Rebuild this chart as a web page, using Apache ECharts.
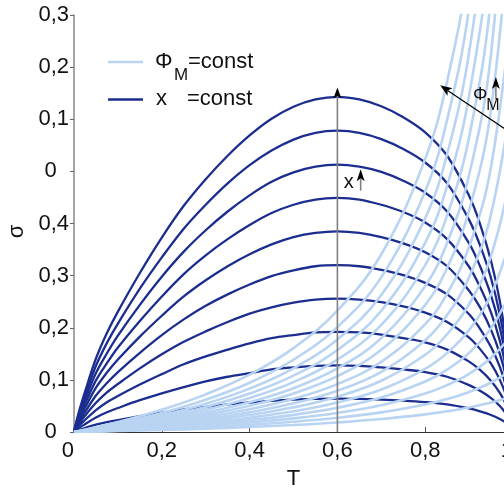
<!DOCTYPE html>
<html>
<head>
<meta charset="utf-8">
<script src="https://cdn.jsdelivr.net/npm/echarts@6/dist/echarts.min.js"></script>
<style>
  html, body { margin: 0; padding: 0; background: #fff; }
  #chart { width: 504px; height: 490px; }
</style>
</head>
<body>
<div id="chart"></div>
<script>
// Tick labels as printed on the axes
const xTickLabels = ['0', '0,2', '0,4', '0,6', '0,8', '1'];
const yTickLabels = ['0', '0,1', '0,2', '0,3', '0,4', '0', '0,1', '0,2', '0,3'];

// x = const curves: sampled temperatures and sigma values
const tDark = [0, 0.01, 0.025, 0.05, 0.075, 0.1, 0.15, 0.2, 0.25, 0.3, 0.35, 0.4, 0.45, 0.5, 0.55,
               0.6, 0.65, 0.7, 0.75, 0.8, 0.85, 0.9, 0.925, 0.95, 0.97, 0.985, 1.0];
const xLine1  = [0, 0.035, 0.077, 0.141, 0.190, 0.231, 0.305, 0.373, 0.434, 0.485, 0.530, 0.569, 0.601, 0.624, 0.638, 0.643, 0.638, 0.625, 0.604, 0.575, 0.530, 0.453, 0.399, 0.328, 0.251, 0.167, 0];
const xLine2  = [0, 0.032, 0.069, 0.127, 0.171, 0.208, 0.275, 0.335, 0.390, 0.436, 0.477, 0.512, 0.540, 0.561, 0.574, 0.578, 0.574, 0.562, 0.543, 0.517, 0.477, 0.407, 0.358, 0.295, 0.225, 0.150, 0];
const xLine3  = [0, 0.028, 0.062, 0.113, 0.151, 0.185, 0.244, 0.298, 0.346, 0.387, 0.423, 0.454, 0.480, 0.498, 0.509, 0.513, 0.509, 0.499, 0.482, 0.459, 0.423, 0.362, 0.318, 0.262, 0.200, 0.133, 0];
const xLine4  = [0, 0.025, 0.054, 0.099, 0.132, 0.162, 0.213, 0.260, 0.303, 0.339, 0.370, 0.397, 0.420, 0.436, 0.446, 0.449, 0.446, 0.436, 0.422, 0.402, 0.370, 0.317, 0.278, 0.229, 0.175, 0.117, 0];
const xLine5  = [0, 0.021, 0.046, 0.085, 0.114, 0.139, 0.183, 0.223, 0.260, 0.291, 0.318, 0.341, 0.360, 0.374, 0.382, 0.385, 0.382, 0.374, 0.362, 0.345, 0.318, 0.271, 0.239, 0.196, 0.150, 0.100, 0];
const xLine6  = [0, 0.018, 0.038, 0.070, 0.094, 0.115, 0.152, 0.186, 0.216, 0.242, 0.264, 0.283, 0.299, 0.310, 0.318, 0.320, 0.318, 0.311, 0.301, 0.286, 0.264, 0.226, 0.198, 0.163, 0.125, 0.083, 0];
const xLine7  = [0, 0.014, 0.031, 0.056, 0.076, 0.092, 0.122, 0.149, 0.173, 0.193, 0.211, 0.227, 0.239, 0.248, 0.254, 0.256, 0.254, 0.249, 0.241, 0.229, 0.211, 0.181, 0.159, 0.131, 0.100, 0.067, 0];
const xLine8  = [0, 0.011, 0.023, 0.042, 0.057, 0.069, 0.091, 0.111, 0.130, 0.145, 0.158, 0.170, 0.180, 0.186, 0.191, 0.192, 0.191, 0.187, 0.180, 0.172, 0.158, 0.135, 0.119, 0.098, 0.075, 0.050, 0];
const xLine9  = [0, 0.007, 0.015, 0.028, 0.038, 0.046, 0.061, 0.074, 0.086, 0.097, 0.106, 0.113, 0.120, 0.124, 0.127, 0.128, 0.127, 0.124, 0.120, 0.115, 0.106, 0.090, 0.079, 0.065, 0.050, 0.033, 0];
const xLine10 = [0, 0.0035, 0.0077, 0.0141, 0.0189, 0.023, 0.0304, 0.0371, 0.0432, 0.0483, 0.0528, 0.0566, 0.0598, 0.0621, 0.0636, 0.064, 0.0636, 0.0622, 0.0602, 0.0573, 0.0528, 0.0451, 0.0397, 0.0326, 0.025, 0.0166, 0];

// Phi_M = const curves: sampled temperatures and sigma values
const tLight = [0, 0.1, 0.2, 0.3, 0.4, 0.5, 0.6, 0.7, 0.8, 0.85, 0.9, 0.95, 1.0];
const phiLine1  = [0, 0.0192, 0.0427, 0.0722, 0.110, 0.161, 0.233, 0.341, 0.524, 0.673, 0.900, 1.289, 2.111];
const phiLine2  = [0, 0.0164, 0.0365, 0.0618, 0.0945, 0.1386, 0.2013, 0.2971, 0.4621, 0.5991, 0.8136, 1.197, 2.078];
const phiLine3  = [0, 0.0144, 0.0321, 0.0543, 0.0832, 0.1222, 0.1776, 0.2627, 0.4103, 0.5336, 0.7283, 1.081, 1.918];
const phiLine4  = [0, 0.0127, 0.0284, 0.0481, 0.0737, 0.1082, 0.1573, 0.2327, 0.3634, 0.4726, 0.6451, 0.9577, 1.699];
const phiLine5  = [0, 0.0113, 0.0251, 0.0426, 0.0652, 0.0957, 0.1389, 0.2053, 0.3200, 0.4156, 0.5657, 0.836, 1.467];
const phiLine6  = [0, 0.0099, 0.0221, 0.0375, 0.0573, 0.0841, 0.1220, 0.1801, 0.2801, 0.3632, 0.4932, 0.7256, 1.260];
const phiLine7  = [0, 0.0088, 0.0195, 0.0330, 0.0504, 0.0739, 0.1071, 0.1576, 0.2440, 0.3151, 0.4253, 0.6189, 1.049];
const phiLine8  = [0, 0.0076, 0.0169, 0.0285, 0.0435, 0.0636, 0.0918, 0.1346, 0.2069, 0.2656, 0.3553, 0.5089, 0.8333];
const phiLine9  = [0, 0.0066, 0.0147, 0.0248, 0.0377, 0.0550, 0.0792, 0.1155, 0.1760, 0.2244, 0.2970, 0.4180, 0.6600];
const phiLine10 = [0, 0.0057, 0.0127, 0.0214, 0.0325, 0.0473, 0.0678, 0.0983, 0.1482, 0.1875, 0.2451, 0.3380, 0.5133];
const phiLine11 = [0, 0.0049, 0.0108, 0.0181, 0.0274, 0.0397, 0.0566, 0.0814, 0.1212, 0.1518, 0.1957, 0.2639, 0.3846];
const phiLine12 = [0, 0.0041, 0.0090, 0.0151, 0.0228, 0.0328, 0.0465, 0.0662, 0.0969, 0.1198, 0.1518, 0.1993, 0.2774];
const phiLine13 = [0, 0.0033, 0.0073, 0.0121, 0.0182, 0.0261, 0.0366, 0.0514, 0.0738, 0.0900, 0.1117, 0.1425, 0.1895];
const phiLine14 = [0, 0.0025, 0.0056, 0.0093, 0.0138, 0.0196, 0.0272, 0.0376, 0.0527, 0.0632, 0.0768, 0.0950, 0.1208];
const phiLine15 = [0, 0.0018, 0.0039, 0.0065, 0.0096, 0.0134, 0.0183, 0.0248, 0.0338, 0.0398, 0.0471, 0.0565, 0.0688];

// Annotation anchors in data coordinates (T, sigma)
const guideFrom = [0.6, 0];
const guideTo = [0.6, 0.661];
const xArrowFrom = [0.653, 0.463];
const xArrowTo = [0.653, 0.504];
const xLabelAt = [0.626, 0.479];
const phiArrowFrom = [1.02, 0.56];
const phiArrowTo = [0.834, 0.665];
const phiSmallFrom = [0.961, 0.638];
const phiSmallTo = [0.961, 0.681];
const phiLabelAt = [0.925, 0.646];
const phiSubAt = [0.954, 0.627];

const DARK = '#1b2d8e';
const LIGHT = '#b8d4f2';
const FONT = '"Liberation Sans", Arial, sans-serif';

const darkLines = [xLine1, xLine2, xLine3, xLine4, xLine5, xLine6, xLine7, xLine8, xLine9, xLine10];
const lightLines = [phiLine1, phiLine2, phiLine3, phiLine4, phiLine5, phiLine6, phiLine7, phiLine8,
                    phiLine9, phiLine10, phiLine11, phiLine12, phiLine13, phiLine14, phiLine15];

function padSingle(s) {
  return s.length === 1 ? s + '  ' : s;
}

const series = [];
darkLines.forEach(vals => {
  series.push({
    type: 'line', name: 'x', silent: true, symbol: 'none', smooth: 0.35,
    data: tDark.map((t, i) => [t, vals[i]]),
    lineStyle: { color: DARK, width: 2.3 }
  });
});
lightLines.forEach(vals => {
  series.push({
    type: 'line', name: 'phi', silent: true, symbol: 'none', smooth: 0.4,
    data: tLight.map((t, i) => [t, vals[i]]),
    lineStyle: { color: LIGHT, width: 2.6 }
  });
});

const chart = echarts.init(document.getElementById('chart'), null, { renderer: 'canvas' });
chart.setOption({
  animation: false,
  backgroundColor: '#fff',
  grid: { left: 74, top: 15, width: 439, height: 417, containLabel: false, outerBoundsMode: 'none' },
  xAxis: {
    type: 'value', min: 0, max: 1, interval: 0.2,
    name: 'T', nameLocation: 'middle', nameGap: 36,
    nameTextStyle: { fontSize: 22, color: '#111', fontFamily: FONT },
    axisLine: { lineStyle: { color: '#333', width: 1.2 } },
    axisTick: { inside: true, length: 5, lineStyle: { color: '#555' } },
    axisLabel: {
      fontSize: 22, color: '#111', fontFamily: FONT, margin: 8,
      formatter: v => padSingle(xTickLabels[Math.round(v / 0.2)] || '')
    },
    splitLine: { show: false }
  },
  yAxis: {
    type: 'value', min: 0, max: 0.8, interval: 0.1,
    name: 'σ', nameLocation: 'middle', nameGap: 46, nameRotate: 90,
    nameTextStyle: { fontSize: 22, color: '#111', fontFamily: FONT, padding: [0, 16, 0, 0] },
    axisLine: { show: true, lineStyle: { color: '#888', width: 1.5 } },
    axisTick: { show: true, inside: false, length: 4, lineStyle: { color: '#666' } },
    axisLabel: {
      fontSize: 22, color: '#111', fontFamily: FONT, margin: 5,
      formatter: v => padSingle(yTickLabels[Math.round(v / 0.1)] || '')
    },
    splitLine: { show: false }
  },
  series: series
});

// Arrow built from a shaft and a notched head, given pixel endpoints
function arrow(p0, p1, shaftColor, headColor, len, wid, lw) {
  const dx = p1[0] - p0[0], dy = p1[1] - p0[1];
  const d = Math.hypot(dx, dy);
  const ux = dx / d, uy = dy / d, nx = -uy, ny = ux;
  const bx = p1[0] - ux * len, by = p1[1] - uy * len;
  const notch = [p1[0] - ux * len * 0.75, p1[1] - uy * len * 0.75];
  return [
    { type: 'line', silent: true, z: 100,
      shape: { x1: p0[0], y1: p0[1], x2: notch[0], y2: notch[1] },
      style: { stroke: shaftColor, lineWidth: lw } },
    { type: 'polygon', silent: true, z: 101,
      shape: { points: [p1, [bx + nx * wid / 2, by + ny * wid / 2], notch, [bx - nx * wid / 2, by - ny * wid / 2]] },
      style: { fill: headColor } }
  ];
}

const px = p => chart.convertToPixel({ gridIndex: 0 }, p);

function text(p, str, size, align) {
  return { type: 'text', silent: true, z: 102, x: p[0], y: p[1],
    style: { text: str, fontSize: size, fontFamily: FONT, fill: '#111',
             align: align || 'center', verticalAlign: 'middle' } };
}

const graphics = [];
graphics.push(...arrow(px(guideFrom), px(guideTo), '#808080', '#000', 11, 8, 1.6));
graphics.push(...arrow(px(xArrowFrom), px(xArrowTo), '#808080', '#000', 12, 8, 1.6));
graphics.push(...arrow(px(phiArrowFrom), px(phiArrowTo), '#000', '#000', 12, 9, 1.2));
graphics.push(...arrow(px(phiSmallFrom), px(phiSmallTo), '#808080', '#000', 12, 8, 1.6));
graphics.push(text(px(xLabelAt), 'x', 20));
graphics.push(text(px(phiLabelAt), 'Φ', 18));
graphics.push(text(px(phiSubAt), 'M', 16));

// Legend
graphics.push({ type: 'line', silent: true, shape: { x1: 108, y1: 62, x2: 143, y2: 62 }, style: { stroke: LIGHT, lineWidth: 2.6 } });
graphics.push(text([155, 62], 'Φ', 22, 'left'));
graphics.push(text([174, 75], 'M', 17, 'left'));
graphics.push(text([188, 62], '=const', 22, 'left'));
graphics.push({ type: 'line', silent: true, shape: { x1: 108, y1: 99.5, x2: 143, y2: 99.5 }, style: { stroke: DARK, lineWidth: 2.3 } });
graphics.push(text([156, 99], 'x', 22, 'left'));
graphics.push(text([187, 99], '=const', 22, 'left'));

chart.setOption({ graphic: graphics });
</script>
</body>
</html>
